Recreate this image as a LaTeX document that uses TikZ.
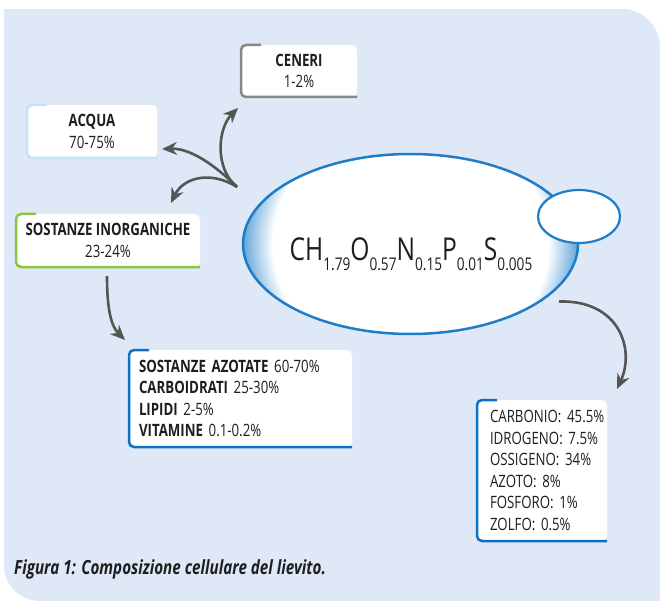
\documentclass[tikz,border=0pt]{standalone}
\usepackage{fontspec}
\setmainfont{Open Sans}[FakeStretch=0.78]
\usepackage{tikz}
\usetikzlibrary{shapes.geometric, arrows.meta}
\definecolor{panelbg}{RGB}{223, 232, 246}
\definecolor{inkgray}{RGB}{30, 30, 32}
\definecolor{arrowgray}{RGB}{85, 85, 85}
\definecolor{ashgray}{RGB}{135, 135, 135}
\definecolor{waterblue}{RGB}{195, 228, 248}
\definecolor{leafgreen}{RGB}{140, 198, 63}
\definecolor{listblue}{RGB}{15, 111, 194}
\definecolor{cellblue}{RGB}{30, 125, 200}
\pgfdeclareradialshading{cellglow}{\pgfpoint{0bp}{0bp}}{color(0bp)=(white); color(20.5bp)=(white); color(25bp)=(cellblue!70); color(50bp)=(cellblue!70)}
\newcommand\chemsub[1]{\raisebox{-10pt}{\fontsize{17.5}{17.5}\selectfont#1}}

\begin{document}
\begin{tikzpicture}[x=1pt, y=-1pt,
  tagbox/.style={fill=white, rounded corners=5pt, inner sep=0pt, outer sep=0pt, align=center, text=inkgray, font=\fontsize{17}{21.5}\selectfont},
  listbox/.style={tagbox, align=left},
  rim/.style={line width=2.5pt, rounded corners=5pt},
  arr/.style={-{Stealth[length=15pt, width=13pt, inset=5pt]}, line width=2.6pt, arrowgray}
]
  \useasboundingbox (0,0) rectangle (660,601);
  % panel
  \fill[panelbg] (4,9) -- (622,9) .. controls (643,9) and (660,26) .. (660,47) -- (660,601) -- (40,601) .. controls (20,601) and (4,585) .. (4,565) -- cycle;

  % cell
  \node[ellipse, minimum width=335pt, minimum height=180pt, inner sep=0pt, outer sep=0pt] (cell) at (410.5,244) {};
  \begin{scope}
    \clip (410.5,244) ellipse [x radius=167.5, y radius=90];
    \shade[shading=cellglow] (410.5,244) ellipse [x radius=168, y radius=150];
  \end{scope}
  \draw[cellblue, line width=2.5pt] (410.5,244) ellipse [x radius=167.5, y radius=90];
  \node[ellipse, draw=cellblue, line width=2.2pt, fill=white, minimum width=82pt, minimum height=53pt, inner sep=0pt] (bud) at (579,216.5) {};
  \node[font=\fontsize{31.5}{32}\selectfont, anchor=base, inner sep=0pt, text=inkgray] (formula) at (411,260) {CH\chemsub{1.79}O\chemsub{0.57}N\chemsub{0.15}P\chemsub{0.01}S\chemsub{0.005}};

  % boxes
  \node[tagbox, minimum width=116pt, minimum height=52pt] (cen) at (299,71) {\textbf{CENERI}\\1-2\%};
  \node[tagbox, minimum width=130pt, minimum height=53pt] (acq) at (92,131.5) {\textbf{ACQUA}\\70-75\%};
  \node[tagbox, minimum width=184pt, minimum height=53pt] (inorg) at (108,240.5) {\textbf{SOSTANZE INORGANICHE}\\23-24\%};
  \node[listbox, text width=203pt, inner xsep=10pt, minimum height=97pt] (azot) at (240.5,398.5)
    {\textbf{SOSTANZE~AZOTATE}~60-70\%\\\textbf{CARBOIDRATI}~25-30\%\\\textbf{LIPIDI}~2-5\%\\\textbf{VITAMINE}~0.1-0.2\%};
  \node[listbox, text width=104pt, inner xsep=13pt, minimum height=141pt] (elem) at (542,470.5)
    {CARBONIO:~45.5\%\\IDROGENO:~7.5\%\\OSSIGENO:~34\%\\AZOTO:~8\%\\FOSFORO:~1\%\\ZOLFO:~0.5\%};
  \foreach \n/\c in {cen/ashgray, acq/waterblue, inorg/leafgreen, azot/listblue, elem/listblue}
    \draw[rim, \c] ([shift={(20,0)}]\n.north west) -- (\n.north west) -- (\n.south west) -- (\n.south east);

  % arrows
  \coordinate (split) at (237,187);
  \draw[arr] (split) .. controls (214,168) and (218,128) .. ([shift={(-3,11)}]cen.south west);
  \draw[arr] (split) .. controls (215,165) and (190,148) .. ([shift={(5,-9)}]acq.south east);
  \draw[arr] (split) .. controls (210,170) and (183,178) .. ([shift={(-29,-11)}]inorg.north east);
  \draw[arr] ([shift={(-1,9)}]inorg.south) .. controls (107,305) and (110,325) .. ([shift={(-4,-10)}]azot.north west);
  \draw[arr] ([shift={(10,7)}]cell.-20) .. controls (620,300) and (635,350) .. ([shift={(10,-11)}]elem.north east);

  \node[anchor=west, inner sep=0pt, text=inkgray, font=\fontsize{19.5}{22}\selectfont\bfseries\itshape] (caption) at (14,569) {Figura 1: Composizione cellulare del lievito.};
\end{tikzpicture}
\end{document}
